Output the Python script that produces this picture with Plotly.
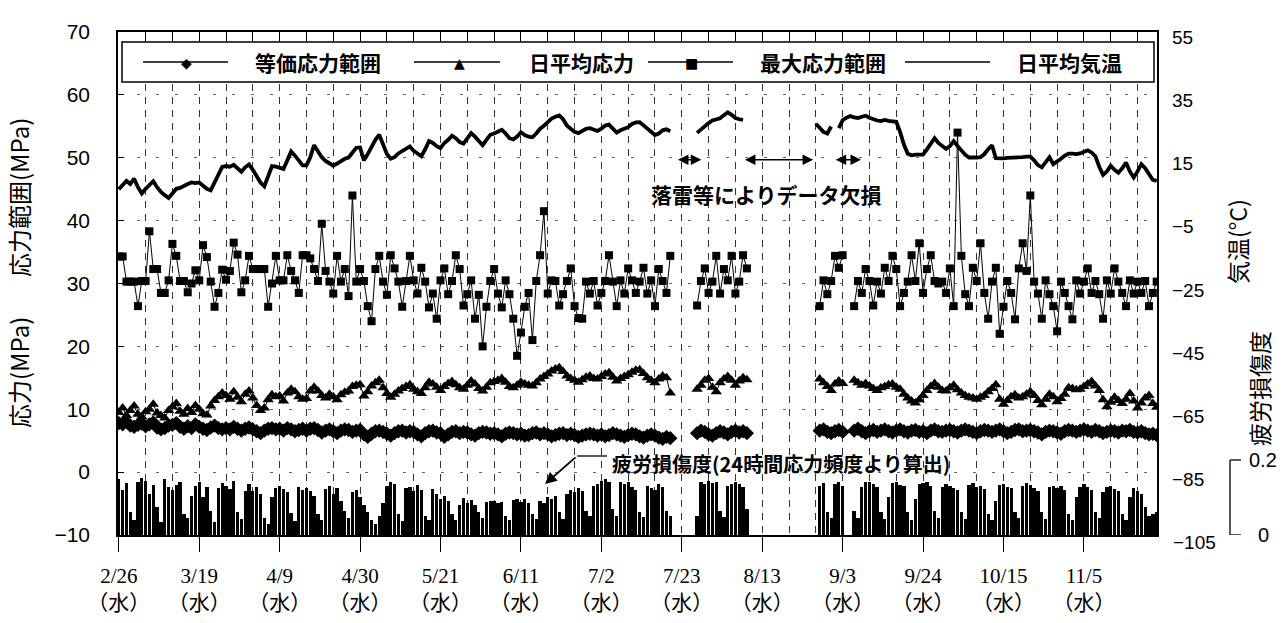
import plotly.graph_objects as go
from datetime import datetime, timedelta

N = None
# Daily values from 2014-02-26 (Wed). None = no data (lightning outage).
# Daily mean air temperature (deg C)
temp_c = [
    6.9, 8.0, 9.5, 8.5, 10.2, 7.5, 5.5,
    7.0, 8.2, 9.4, 7.5, 6.0, 5.0, 4.1,
    5.5, 7.0, 7.3, 8.0, 8.5, 9.0, 8.8,
    9.0, 8.0, 7.0, 6.5, 9.0, 12.0, 13.9,
    14.2, 14.0, 14.6, 13.5, 12.4, 13.8, 14.7,
    13.0, 11.0, 9.0, 7.8, 11.0, 14.2, 14.0,
    13.6, 13.3, 16.0, 18.8, 17.5, 16.0, 14.4,
    14.4, 17.0, 20.8, 19.0, 17.0, 15.8, 15.0,
    14.3, 15.0, 15.8, 16.5, 16.9, 18.5, 20.0,
    20.1, 16.0, 18.0, 20.5, 22.5, 24.1, 21.0,
    18.0, 16.5, 17.0, 18.2, 19.0, 19.8, 20.4,
    19.0, 18.0, 17.3, 19.5, 22.1, 21.5, 20.5,
    19.9, 21.5, 22.5, 23.8, 23.0, 21.8, 21.3,
    23.0, 24.6, 23.5, 22.0, 20.8, 22.5, 24.1,
    24.5, 25.0, 25.7, 24.5, 23.0, 22.6, 23.5,
    24.9, 24.0, 23.5, 23.3, 24.5, 26.0, 26.9,
    28.0, 29.2, 29.8, 30.2, 29.0, 27.0, 26.0,
    25.0, 24.6, 25.2, 26.0, 26.2, 25.6, 25.3,
    26.0, 27.0, 27.3, 26.0, 24.8, 25.5, 26.0,
    26.5, 27.5, 28.0, 28.1, 27.0, 25.8, 25.0,
    24.0, 24.5, 25.5, 25.8, 25.2, N, N,
    N, N, N, N, 24.7, 25.8, 26.9,
    27.8, 28.6, 28.9, 29.3, 30.3, 31.2, 30.4,
    29.4, 29.0, 28.8, N, N, N, N,
    N, N, N, N, N, N, N,
    N, N, N, N, N, N, N,
    27.6, 26.5, 25.0, 24.5, 26.7, N, 26.2,
    28.7, 29.5, 30.0, 29.6, 29.4, 29.8, 30.1,
    29.5, 28.9, 28.6, 28.4, 28.8, 28.5, 28.4,
    28.2, 25.0, 21.0, 18.1, 17.6, 17.8, 17.8,
    17.8, 19.5, 21.5, 23.0, 21.5, 20.5, 19.6,
    20.5, 22.1, 20.5, 19.0, 17.8, 16.9, 16.8,
    16.9, 17.0, 18.0, 19.5, 20.8, 16.7, 16.5,
    16.6, 16.8, 16.8, 16.9, 17.0, 17.0, 17.2,
    17.2, 16.0, 14.5, 13.8, 15.5, 17.0, 14.8,
    15.5, 16.5, 17.5, 18.1, 18.1, 18.0, 18.2,
    18.6, 19.2, 18.5, 17.3, 14.0, 11.4, 12.5,
    14.3, 13.0, 12.1, 13.5, 15.3, 12.5, 10.6,
    12.5, 14.8, 13.5, 11.5, 9.8, 9.5,
]

# Daily mean stress (MPa)
mean_stress = [
    9.5, 10.2, 9.0, 9.8, 10.5, 9.2, 8.8,
    9.6, 10.0, 10.8, 9.4, 9.0, 8.6, 9.8,
    10.4, 10.9, 9.7, 9.2, 10.1, 9.5, 10.6,
    10.0, 9.3, 9.1, 10.5, 11.4, 12.0, 12.6,
    12.2, 11.6, 12.8, 11.9, 11.2, 12.4, 12.9,
    11.8, 10.6, 9.8, 10.2, 11.5, 12.3, 12.0,
    12.1, 11.3, 12.6, 13.2, 12.8, 12.0, 11.6,
    11.7, 12.9, 13.5, 12.9, 12.2, 11.8, 12.4,
    12.0, 11.5, 12.3, 12.7, 12.9, 13.6, 13.8,
    13.9, 12.1, 12.8, 13.7, 14.2, 14.6, 13.4,
    12.5, 11.9, 12.4, 12.9, 13.3, 13.6, 13.9,
    13.2, 12.8, 12.5, 13.4, 14.3, 14.0, 13.5,
    13.0, 13.6, 14.1, 14.4, 13.9, 13.4, 13.2,
    13.8, 14.5, 14.0, 13.3, 12.9, 13.5, 14.2,
    14.4, 14.6, 14.9, 14.3, 13.6, 13.4, 13.8,
    14.3, 14.0, 13.8, 13.7, 14.2, 14.8, 15.2,
    15.6, 16.1, 16.4, 16.6, 16.0, 15.3, 14.9,
    14.6, 14.3, 14.7, 15.1, 15.3, 14.9, 14.8,
    15.2, 15.6, 15.8, 15.1, 14.5, 14.9, 15.2,
    15.5, 15.9, 16.2, 16.3, 15.7, 15.0, 14.6,
    14.2, 14.8, 15.3, 15.0, 12.6, N, N,
    N, N, N, N, 13.2, 13.8, 14.6,
    14.9, 13.5, 12.8, 14.2, 14.8, 15.2, 14.6,
    13.8, 14.5, 15.0, 14.7, N, N, N,
    N, N, N, N, N, N, N,
    N, N, N, N, N, N, N,
    N, 14.8, 14.2, 13.6, 13.0, 14.0, 14.5,
    14.1, N, N, 14.6, 14.2, 13.8, 14.1,
    13.7, 13.3, 13.0, 13.4, 13.6, 13.9, 14.0,
    13.5, 13.2, 12.4, 11.8, 11.3, 11.0, 11.5,
    12.2, 13.0, 13.6, 14.1, 13.5, 13.0, 12.9,
    13.4, 13.8, 13.1, 12.6, 12.2, 11.9, 11.8,
    11.6, 11.9, 12.2, 12.8, 13.3, 13.9, 11.6,
    10.8, 11.4, 12.0, 12.3, 11.8, 12.0, 12.4,
    12.8, 12.2, 11.4, 10.7, 11.6, 12.4, 12.0,
    11.2, 11.7, 12.4, 13.4, 13.3, 13.1, 13.2,
    13.6, 14.0, 14.4, 13.7, 13.0, 11.5, 10.4,
    11.1, 11.9, 11.4, 10.9, 11.6, 12.5, 11.3,
    10.2, 11.0, 11.8, 12.2, 10.9, 10.3,
]

# Equivalent stress range (MPa)
equiv_range = [
    7.8, 7.6, 8.0, 7.4, 7.2, 7.5, 7.7,
    7.3, 7.6, 7.9, 7.1, 6.8, 7.0, 7.4,
    7.5, 7.8, 7.2, 6.9, 7.3, 7.0, 7.6,
    7.2, 6.9, 6.7, 7.1, 7.4, 7.0, 6.8,
    7.0, 6.8, 7.2, 6.9, 6.6, 6.9, 7.1,
    6.8, 6.5, 6.2, 6.6, 6.9, 7.0, 6.8,
    6.9, 6.6, 7.0, 6.8, 6.5, 6.7, 6.9,
    6.6, 6.9, 7.0, 6.7, 6.3, 6.6, 6.8,
    6.5, 6.2, 6.6, 6.8, 6.7, 6.4, 6.6,
    6.7, 6.0, 5.6, 6.1, 6.5, 6.6, 6.4,
    6.1, 5.8, 6.2, 6.5, 6.6, 6.3, 6.5,
    6.4, 6.0, 5.7, 6.2, 6.5, 6.6, 6.3,
    6.2, 5.6, 6.0, 6.4, 6.5, 6.2, 6.4,
    6.3, 6.0, 5.8, 6.2, 6.4, 6.3, 6.1,
    6.2, 6.0, 5.7, 6.1, 6.3, 6.2, 6.0,
    6.1, 5.8, 5.9, 6.2, 6.3, 6.0, 6.2,
    6.0, 5.7, 5.9, 6.1, 6.2, 5.9, 6.1,
    5.9, 5.6, 5.8, 6.0, 6.1, 6.0, 5.8,
    6.0, 5.7, 5.9, 6.2, 6.0, 5.8, 5.6,
    5.9, 6.1, 6.0, 5.7, 5.5, 5.8, 6.0,
    5.8, 5.5, 5.3, 5.6, 5.4, N, N,
    N, N, N, N, 6.2, 6.6, 6.4,
    6.0, 5.8, 6.2, 6.5, 6.3, 6.0, 6.4,
    6.6, 6.3, 6.5, 6.2, N, N, N,
    N, N, N, N, N, N, N,
    N, N, N, N, N, N, N,
    N, 6.6, 6.8, 6.4, 6.2, 6.5, 6.7,
    6.4, N, N, 6.6, 6.9, 6.5, 6.2,
    6.5, 6.7, 6.4, 6.6, 6.8, 6.5, 6.3,
    6.6, 6.8, 6.5, 6.3, 6.6, 6.7, 6.4,
    6.5, 6.2, 6.6, 6.8, 6.5, 6.4, 6.6,
    6.7, 6.5, 6.3, 6.6, 6.8, 6.6, 6.4,
    6.2, 6.5, 6.7, 6.6, 6.4, 6.6, 6.8,
    6.5, 6.2, 6.4, 6.7, 6.8, 6.5, 6.6,
    6.7, 6.5, 6.3, 6.0, 6.4, 6.6, 6.5,
    6.3, 6.1, 6.5, 6.7, 6.6, 6.4, 6.6,
    6.8, 6.6, 6.4, 6.7, 6.5, 6.2, 6.4,
    6.6, 6.5, 6.3, 6.6, 6.5, 6.7, 6.4,
    6.3, 6.5, 6.2, 6.0, 6.1, 5.9,
]

# Maximum stress range (MPa)
max_range = [
    34.3, 34.3, 30.3, 30.3, 30.3, 26.4, 30.4,
    30.4, 38.3, 32.3, 32.3, 28.5, 28.5, 30.5,
    36.3, 34.4, 30.4, 30.4, 28.6, 30.0, 32.1,
    30.5, 36.1, 34.2, 30.3, 26.3, 28.5, 32.2,
    30.6, 32.0, 36.5, 34.6, 28.6, 30.5, 34.4,
    32.3, 32.3, 32.3, 32.3, 26.3, 30.0, 34.4,
    30.5, 30.5, 34.5, 32.0, 30.5, 28.5, 34.5,
    34.5, 34.0, 32.3, 30.4, 39.5, 32.0, 30.3,
    28.4, 34.4, 30.3, 32.3, 28.0, 44.0, 30.3,
    32.3, 30.4, 26.4, 24.0, 32.3, 34.4, 30.3,
    28.2, 34.5, 32.4, 30.3, 26.3, 30.4, 34.4,
    30.5, 28.4, 32.5, 30.3, 26.2, 28.4, 24.4,
    30.5, 32.4, 28.3, 30.4, 34.5, 32.3, 26.5,
    28.3, 30.5, 24.4, 28.2, 20.0, 26.3, 30.4,
    32.3, 28.4, 26.2, 30.5, 28.3, 24.4, 18.5,
    22.2, 26.3, 28.5, 21.0, 30.4, 34.5, 41.5,
    28.4, 30.5, 30.4, 26.5, 28.3, 30.4, 32.4,
    26.4, 24.5, 24.4, 30.3, 28.4, 30.4, 26.5,
    28.5, 30.4, 34.5, 30.3, 26.4, 30.5, 28.4,
    32.4, 30.5, 28.5, 30.3, 32.5, 28.4, 30.5,
    26.4, 32.3, 30.4, 28.5, 34.4, N, N,
    N, N, N, N, 26.5, 30.4, 32.4,
    28.5, 30.3, 34.4, 28.4, 32.3, 30.5, 34.4,
    28.4, 30.3, 34.5, 32.4, N, N, N,
    N, N, N, N, N, N, N,
    N, N, N, N, N, N, N,
    N, 26.4, 30.5, 28.3, 30.4, 34.4, 32.5,
    34.5, N, N, 26.4, 30.4, 28.5, 32.3,
    30.4, 26.5, 30.3, 28.4, 32.5, 30.4, 34.4,
    32.3, 26.4, 28.5, 30.3, 34.5, 30.4, 36.4,
    28.5, 32.3, 34.5, 30.4, 30.0, 30.3, 28.5,
    32.4, 26.4, 54.0, 34.4, 28.3, 26.4, 32.5,
    30.4, 36.4, 28.5, 24.4, 30.3, 32.5, 22.0,
    26.3, 30.4, 28.5, 24.3, 32.4, 36.4, 32.0,
    44.0, 30.3, 28.4, 24.4, 30.5, 28.3, 26.4,
    22.4, 30.3, 28.5, 26.4, 24.3, 30.5, 28.4,
    30.3, 32.4, 28.5, 30.4, 28.3, 24.4, 30.5,
    28.4, 32.4, 30.3, 28.5, 26.4, 30.5, 28.4,
    30.3, 28.5, 30.4, 26.4, 28.5, 30.3,
]

# Fatigue damage from 24-hour stress histograms
fatigue = [
    0.150, 0.120, 0.138, 0.060, 0.040, 0.140, 0.152,
    0.145, 0.110, 0.132, 0.075, 0.035, 0.150, 0.128,
    0.120, 0.133, 0.140, 0.055, 0.045, 0.105, 0.130,
    0.142, 0.100, 0.128, 0.065, 0.035, 0.125, 0.138,
    0.130, 0.122, 0.145, 0.060, 0.042, 0.118, 0.135,
    0.118, 0.128, 0.110, 0.045, 0.030, 0.100, 0.125,
    0.130, 0.122, 0.115, 0.058, 0.038, 0.128, 0.120,
    0.125, 0.118, 0.105, 0.055, 0.040, 0.122, 0.130,
    0.110, 0.125, 0.090, 0.065, 0.045, 0.115, 0.120,
    0.100, 0.080, 0.060, 0.040, 0.030, 0.050, 0.085,
    0.130, 0.140, 0.135, 0.055, 0.038, 0.125, 0.128,
    0.118, 0.132, 0.120, 0.050, 0.040, 0.122, 0.110,
    0.095, 0.105, 0.090, 0.055, 0.040, 0.080, 0.098,
    0.085, 0.092, 0.080, 0.060, 0.045, 0.088, 0.090,
    0.090, 0.085, 0.088, 0.052, 0.040, 0.092, 0.095,
    0.088, 0.095, 0.085, 0.055, 0.042, 0.090, 0.086,
    0.100, 0.095, 0.105, 0.060, 0.042, 0.110, 0.120,
    0.115, 0.125, 0.118, 0.065, 0.050, 0.130, 0.135,
    0.145, 0.150, 0.140, 0.070, 0.050, 0.140, 0.135,
    0.140, 0.128, 0.120, 0.060, 0.048, 0.130, 0.125,
    0.120, 0.135, 0.128, 0.065, 0.050, N, N,
    N, N, N, N, 0.050, 0.140, 0.135,
    0.145, 0.138, 0.142, 0.065, 0.048, 0.130, 0.135,
    0.140, 0.136, 0.128, 0.070, N, N, N,
    N, N, N, N, N, N, N,
    N, N, N, N, N, N, N,
    N, 0.130, 0.138, 0.060, 0.045, 0.135, 0.140,
    0.130, N, N, 0.065, 0.045, 0.128, 0.140,
    0.142, 0.135, 0.128, 0.062, 0.042, 0.100, 0.138,
    0.140, 0.132, 0.130, 0.060, 0.040, 0.095, 0.135,
    0.138, 0.142, 0.130, 0.065, 0.045, 0.128, 0.135,
    0.130, 0.125, 0.120, 0.060, 0.042, 0.132, 0.138,
    0.128, 0.130, 0.122, 0.055, 0.040, 0.090, 0.132,
    0.135, 0.128, 0.125, 0.062, 0.045, 0.130, 0.138,
    0.132, 0.125, 0.118, 0.060, 0.042, 0.128, 0.130,
    0.125, 0.130, 0.120, 0.055, 0.040, 0.100, 0.128,
    0.135, 0.128, 0.120, 0.060, 0.045, 0.115, 0.128,
    0.130, 0.122, 0.118, 0.057, 0.040, 0.100, 0.125,
    0.118, 0.110, 0.075, 0.050, 0.055, 0.060,
]

tick_labels = ["2/26", "3/19", "4/9", "4/30", "5/21", "6/11", "7/2",
               "7/23", "8/13", "9/3", "9/24", "10/15", "11/5"]
left_ticks = [-10, 0, 10, 20, 30, 40, 50, 60, 70]
right_ticks = [-85, -65, -45, -25, -5, 15, 35, 55]

YEAR = 2014
start = datetime(YEAR, 2, 26)
dates = [start + timedelta(days=i) for i in range(len(temp_c))]

def md(s):
    m, d = s.split("/")
    return datetime(YEAR, int(m), int(d))

tick_vals = [md(s) for s in tick_labels]
tick_text = ["%s<br>（水）" % s for s in tick_labels]
weeks = [start + timedelta(days=7 * k) for k in range(40)]

W, H = 1282, 623
PL, PR, PT, PB = 118, 1157, 32, 535
def px(x):
    return (x - PL) / (PR - PL)
def py(y):
    return (PB - y) / (PB - PT)

x_range = [start - timedelta(hours=5), start + timedelta(days=271, hours=2)]
DAY_MS = 86400000
T_RANGE = [-102.5, 56.6]

fig = go.Figure()
fig.add_trace(go.Bar(x=dates, y=fatigue, yaxis="y3", width=0.86 * DAY_MS,
                     marker=dict(color="black", line=dict(width=0)), showlegend=False))
fig.add_trace(go.Scatter(x=dates, y=temp_c, yaxis="y2", mode="lines",
                         line=dict(color="black", width=3.8), showlegend=False))
fig.add_trace(go.Scatter(x=dates, y=max_range, mode="lines+markers",
                         line=dict(color="black", width=1),
                         marker=dict(symbol="square", size=8, color="black"), showlegend=False))
fig.add_trace(go.Scatter(x=dates, y=mean_stress, mode="lines+markers",
                         line=dict(color="black", width=1),
                         marker=dict(symbol="triangle-up", size=10, color="black"), showlegend=False))
fig.add_trace(go.Scatter(x=dates, y=equiv_range, mode="lines+markers",
                         line=dict(color="black", width=2),
                         marker=dict(symbol="diamond", size=11, color="black"), showlegend=False))
# empty trace so the top tick axis is instantiated
fig.add_trace(go.Scatter(x=[dates[0]], y=[None], xaxis="x2", showlegend=False))

grid_dash = "7px,6px"
fig.update_layout(
    width=W, height=H, autosize=False,
    margin=dict(l=PL, r=W - PR, t=PT, b=H - PB, pad=0),
    paper_bgcolor="white", plot_bgcolor="white",
    xaxis=dict(type="date", range=x_range, tickmode="array", tickvals=tick_vals,
               ticktext=tick_text, ticks="outside", ticklen=15, tickwidth=1.2,
               tickcolor="black", ticklabelstandoff=6, automargin=False,
               tickfont=dict(family="Liberation Serif, Noto Sans CJK JP", size=21, color="black"),
               showline=True, linecolor="black", linewidth=1.5, mirror=True,
               showgrid=True, gridcolor="#333", gridwidth=1, griddash=grid_dash,
               minor=dict(tickmode="array", tickvals=weeks, showgrid=True,
                          gridcolor="#333", gridwidth=1, griddash=grid_dash),
               zeroline=False),
    xaxis2=dict(type="date", range=x_range, overlaying="x", side="top", anchor="y",
                tickmode="array", tickvals=weeks, ticks="inside", ticklen=10,
                tickcolor="black", tickwidth=1.2, showticklabels=False, automargin=False,
                showline=False, showgrid=False, zeroline=False),
    yaxis=dict(range=[-10, 70], tickmode="array", tickvals=left_ticks,
               ticks="inside", ticklen=6, tickcolor="black", automargin=False,
               tickfont=dict(family="Liberation Sans", size=21, color="black"),
               ticklabelstandoff=22,
               showline=True, linecolor="black", linewidth=1.5, mirror=True,
               showgrid=True, gridcolor="#666", gridwidth=1, griddash="3px,16px",
               zeroline=False),
    yaxis2=dict(range=T_RANGE, overlaying="y", side="right", anchor="x",
                tickmode="array", tickvals=right_ticks, ticks="", automargin=False,
                tickfont=dict(family="Liberation Sans", size=19, color="black"),
                ticklabelstandoff=14, showgrid=False, zeroline=False, showline=False),
    yaxis3=dict(range=[0, 1.341], overlaying="y", visible=False, anchor="x"),
    bargap=0,
)

shapes = []
annotations = []

# legend box
shapes.append(dict(type="rect", xref="paper", yref="paper", x0=px(122), x1=px(1154),
                   y0=py(82), y1=py(42), line=dict(color="black", width=1.5),
                   fillcolor="white", layer="above"))
leg_y = 62
legend_items = [
    (143, 228, 186, "◆", 253, "等価応力範囲"),
    (414, 500, 459, "▲", 527, "日平均応力"),
    (648, 733, 691, "■", 758, "最大応力範囲"),
    (905, 990, None, None, 1015, "日平均気温"),
]
for x0, x1, mx, sym, tx, label in legend_items:
    shapes.append(dict(type="line", xref="paper", yref="paper", x0=px(x0), x1=px(x1),
                       y0=py(leg_y), y1=py(leg_y), line=dict(color="black", width=1.3),
                       layer="above"))
    if sym:
        annotations.append(dict(xref="paper", yref="paper", x=px(mx), y=py(leg_y + 1),
                                text=sym, showarrow=False, xanchor="center", yanchor="middle",
                                font=dict(family="DejaVu Sans", size=14, color="black")))
    annotations.append(dict(xref="paper", yref="paper", x=px(tx), y=py(leg_y),
                            text=label, showarrow=False, xanchor="left", yanchor="middle",
                            font=dict(family="Noto Sans CJK JP", size=21, color="black",
                                      weight="bold")))

# data outage arrows
gap_arrows = [(145.6, 152.1), (163.1, 181.3), (186.8, 193.8)]
for a, b in gap_arrows:
    annotations.append(dict(xref="x", yref="y", axref="x", ayref="y",
                            x=start + timedelta(days=b), y=49.7,
                            ax=start + timedelta(days=a), ay=49.7,
                            text="", showarrow=True, arrowside="end+start",
                            arrowhead=2, arrowsize=1.4, arrowwidth=1.5, arrowcolor="black"))
annotations.append(dict(xref="paper", yref="paper", x=px(766), y=py(194),
                        text="落雷等によりデータ欠損", showarrow=False,
                        xanchor="center", yanchor="middle",
                        font=dict(family="Noto Sans CJK JP", size=21, color="black",
                                  weight="bold")))

# fatigue damage callout
shapes.append(dict(type="line", xref="paper", yref="paper", x0=px(577), x1=px(607),
                   y0=py(456), y1=py(456), line=dict(color="black", width=1.3)))
annotations.append(dict(xref="paper", yref="paper", x=px(545), y=py(484),
                        ax=32, ay=-28, axref="pixel", ayref="pixel", text="",
                        showarrow=True, arrowhead=2, arrowsize=1.3, arrowwidth=1.8,
                        arrowcolor="black"))
annotations.append(dict(xref="paper", yref="paper", x=px(610), y=py(463),
                        text="疲労損傷度(24時間応力頻度より算出)", showarrow=False,
                        xanchor="left", yanchor="middle",
                        font=dict(family="Noto Sans CJK JP", size=20, color="black",
                                  weight="bold")))

# axis titles
annotations.append(dict(xref="paper", yref="paper", x=px(18), y=py(198),
                        text="応力範囲(MPa)", textangle=-90, showarrow=False,
                        xanchor="center", yanchor="middle",
                        font=dict(family="Noto Sans CJK JP", size=24, color="black")))
annotations.append(dict(xref="paper", yref="paper", x=px(18), y=py(373),
                        text="応力(MPa)", textangle=-90, showarrow=False,
                        xanchor="center", yanchor="middle",
                        font=dict(family="Noto Sans CJK JP", size=24, color="black")))
annotations.append(dict(xref="paper", yref="paper", x=px(1237), y=py(242),
                        text="気温(°C)", textangle=-90, showarrow=False,
                        xanchor="center", yanchor="middle",
                        font=dict(family="Noto Sans CJK JP", size=23, color="black")))
annotations.append(dict(xref="paper", yref="paper", x=px(1259), y=py(389),
                        text="疲労損傷度", textangle=-90, showarrow=False,
                        xanchor="center", yanchor="middle",
                        font=dict(family="Noto Sans CJK JP", size=23, color="black")))

# right axis: lowest label sits just below the frame
y_m105 = PT + (T_RANGE[1] + 105) * (PB - PT) / (T_RANGE[1] - T_RANGE[0])
annotations.append(dict(xref="paper", yref="paper", x=1 + 14 / (PR - PL), y=py(y_m105),
                        text="−105", showarrow=False, xanchor="left", yanchor="middle",
                        font=dict(family="Liberation Sans", size=19, color="black")))

# fatigue damage scale bracket
bx = px(1230)
bt = px(1241)
shapes += [
    dict(type="line", xref="paper", yref="y3", x0=bx, x1=bx, y0=0, y1=0.2,
         line=dict(color="black", width=1.3)),
    dict(type="line", xref="paper", yref="y3", x0=bx, x1=bt, y0=0.2, y1=0.2,
         line=dict(color="black", width=1.3)),
    dict(type="line", xref="paper", yref="y3", x0=bx, x1=bt, y0=0, y1=0,
         line=dict(color="black", width=1.3)),
]
annotations.append(dict(xref="paper", yref="y3", x=px(1263), y=0.2, text="0.2",
                        showarrow=False, xanchor="center", yanchor="middle",
                        font=dict(family="Liberation Sans", size=20, color="black")))
annotations.append(dict(xref="paper", yref="y3", x=px(1263), y=0.0, text="0",
                        showarrow=False, xanchor="center", yanchor="middle",
                        font=dict(family="Liberation Sans", size=20, color="black")))

fig.update_layout(shapes=shapes, annotations=annotations)
fig.write_html("out.html")
